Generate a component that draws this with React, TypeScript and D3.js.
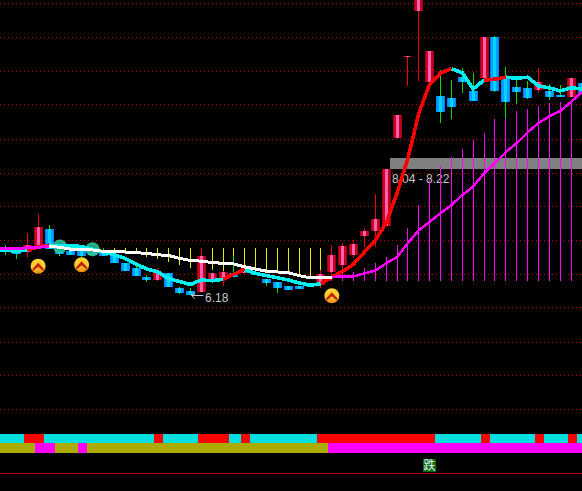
// K-line chart with two moving lines, signal bars and state strips
import React from "react";
import { scaleLinear, scaleLog, line } from "d3";

const svgWidth = 582;
const svgHeight = 491;

const opens = [6.79, 6.74, 6.73, 6.79, 7.07, 6.79, 6.74, 6.76, 6.76, 6.76, 6.69, 6.58, 6.5, 6.38, 6.34, 6.44, 6.23, 6.19, 6.18, 6.34, 6.37, 6.44, 6.43, 6.45, 6.35, 6.31, 6.26, 6.26, 6.3, 6.27, 6.45, 6.55, 6.69, 6.96, 7.04, 7.12, 8.58, 10.2, 11.24, 9.68, 9.39, 9.35, 9.77, 9.49, 9.75, 10.64, 9.73, 9.57, 9.55, 9.51, 9.49, 9.41, 9.37, 9.65];
const highs = [6.83, 6.76, 7.01, 7.3, 7.13, 6.85, 6.74, 6.76, 6.76, 6.79, 6.72, 6.58, 6.55, 6.41, 6.5, 6.44, 6.25, 6.23, 6.79, 6.43, 6.46, 6.67, 6.52, 6.45, 6.35, 6.31, 6.26, 6.26, 6.3, 6.48, 6.83, 6.86, 6.9, 7.08, 7.62, 8.03, 9.01, 10.22, 11.77, 10.33, 9.92, 9.71, 9.96, 9.86, 10.64, 10.67, 9.98, 9.77, 9.69, 9.96, 9.63, 9.61, 9.75, 9.65];
const lows = [6.69, 6.63, 6.66, 6.78, 6.77, 6.67, 6.69, 6.62, 6.69, 6.67, 6.58, 6.46, 6.39, 6.31, 6.32, 6.25, 6.16, 6.14, 6.18, 6.34, 6.26, 6.38, 6.43, 6.41, 6.26, 6.17, 6.2, 6.22, 6.26, 6.23, 6.32, 6.48, 6.65, 6.8, 6.8, 7.12, 8.58, 9.59, 9.69, 9.68, 8.87, 8.94, 9.45, 9.29, 9.75, 9.47, 8.94, 9.23, 9.33, 9.45, 9.31, 9.37, 9.37, 9.43];
const closes = [6.76, 6.7, 6.83, 7.1, 6.77, 6.7, 6.69, 6.67, 6.69, 6.68, 6.58, 6.46, 6.39, 6.34, 6.43, 6.25, 6.17, 6.14, 6.67, 6.43, 6.45, 6.38, 6.51, 6.41, 6.3, 6.23, 6.2, 6.22, 6.26, 6.42, 6.69, 6.81, 6.85, 7.04, 7.22, 8.03, 9.01, 10.22, 11.77, 10.33, 9.08, 9.17, 9.67, 9.29, 10.64, 9.49, 9.27, 9.47, 9.35, 9.67, 9.37, 9.37, 9.75, 9.43];

const fastLine = [6.76, 6.74, 6.76, 6.8, 6.83, 6.82, 6.82, 6.81, 6.77, 6.73, 6.69, 6.64, 6.56, 6.49, 6.45, 6.36, 6.32, 6.28, 6.34, 6.33, 6.35, 6.42, 6.48, 6.43, 6.4, 6.37, 6.34, 6.3, 6.27, 6.29, 6.38, 6.46, 6.56, 6.73, 6.9, 7.16, 7.63, 8.22, 9.05, 9.63, 9.86, 9.95, 9.86, 9.53, 9.71, 9.73, 9.77, 9.75, 9.77, 9.59, 9.55, 9.49, 9.55, 9.53];
const slowLine = [6.78, 6.78, 6.79, 6.8, 6.81, 6.8, 6.77, 6.77, 6.76, 6.74, 6.74, 6.73, 6.72, 6.71, 6.69, 6.68, 6.64, 6.61, 6.6, 6.58, 6.57, 6.56, 6.52, 6.49, 6.46, 6.45, 6.44, 6.4, 6.37, 6.37, 6.38, 6.39, 6.39, 6.43, 6.47, 6.57, 6.66, 6.86, 7.05, 7.18, 7.31, 7.44, 7.6, 7.74, 7.96, 8.14, 8.33, 8.49, 8.69, 8.86, 8.99, 9.09, 9.27, 9.47];

// segments of the fast line drawn red, the rest is cyan: [from, to]
const fastRedRuns = [[2, 4], [20, 22], [29, 41], [44, 46]];
// segments of the slow line drawn white, the rest is magenta
const slowWhiteRuns = [[4, 30]];

const yellowStart = 10;
const yellowTop = 6.79;
const yellowBottoms = [6.72, 6.72, 6.71, 6.66, 6.63, 6.59, 6.55, 6.5, 6.5, 6.48, 6.45, 6.45, 6.45, 6.44, 6.44, 6.44, 6.42, 6.39, 6.37, 6.37];
const magentaStart = 30;
const magentaBase = 6.33;
const magentaTops = [6.39, 6.44, 6.45, 6.5, 6.58, 6.66, 6.83, 7.08, 7.44, 7.85, 8.08, 8.24, 8.38, 8.55, 8.68, 8.93, 8.94, 9.09, 9.13, 9.18, 9.24, 9.27, 9.29];

const gridPrices = [11.45, 10.65, 9.91, 9.22, 8.57, 7.97, 7.42, 6.9, 6.42, 5.98, 5.56, 5.18, 4.82];

const zoneLow = 8.04;
const zoneHigh = 8.22;
const zoneLabel = "8.04 - 8.22";
const lowPrice = 6.18;
const lowLabel = "6.18";

const upIcons = [{ i: 3, price: 6.53 }, { i: 7, price: 6.55 }, { i: 30, price: 6.13 }];
const tealDiscs = [{ i: 5, price: 6.81 }, { i: 8, price: 6.77 }];

const hotIndexes = [3, 4, 7, 30, 31, 32, 33, 34, 35, 36, 37, 38, 39, 40, 41, 42, 43, 44, 45, 46, 47, 48, 49, 50, 51, 52, 53];
const fallLabel = "跌";

const xScale = scaleLinear().domain([0, 53]).range([5.5, 582]);
const yScale = scaleLog().domain([6.18, 11.47]).range([292, 2]);
const step = xScale(1) - xScale(0);

const isRed = (i: number) => closes[i] >= opens[i];
const inRuns = (runs: number[][], i: number) => runs.some(([a, b]) => i >= a && i < b);

// split a series into same coloured pieces
const pieces = (values: number[], runs: number[][], onColor: string, offColor: string) => {
    const out: { d: string; color: string }[] = [];
    let start = 0;
    for (let i = 1; i < values.length; i++) {
        const on = inRuns(runs, start);
        if (i === values.length - 1 || inRuns(runs, i) !== on) {
            const pts = values.map((v, k) => (k >= start && k <= i ? v : null));
            let path = line<number | null>()
                .defined((d) => d !== null)
                .x((_, k) => xScale(k))
                .y((d) => yScale(d as number))(pts) as string;
            // the series runs on to the left edge of the window
            if (start === 0) path = `M0,${yScale(values[0])}L` + path.slice(1);
            out.push({ d: path, color: on ? onColor : offColor });
            start = i;
        }
    }
    return out;
};

const Candle = ({ i }: { i: number }) => {
    const left = Math.round(xScale(i) - 4.5);
    const red = isRed(i);
    const top = yScale(Math.max(opens[i], closes[i]));
    const bottom = yScale(Math.min(opens[i], closes[i]));
    return (
        <g shapeRendering="crispEdges">
            <rect
                x={left + 4}
                y={yScale(highs[i])}
                width={1}
                height={yScale(lows[i]) - yScale(highs[i])}
                fill={red ? "#f00010" : "#00e000"}
            />
            <rect
                x={left}
                y={top}
                width={9}
                height={Math.max(bottom - top, 1)}
                fill={red ? "url(#redBody)" : "url(#blueBody)"}
            />
        </g>
    );
};

const UpIcon = ({ i, price }: { i: number; price: number }) => {
    const cx = xScale(i);
    const cy = yScale(price);
    return (
        <g transform={`translate(${cx},${cy})`}>
            <circle r={7.5} fill="url(#iconFill)" />
            <path d="M-5.5,2.5 L0,-3.5 L5.5,2.5 L5.5,5 L0,0.5 L-5.5,5 Z" fill="#c02010" />
        </g>
    );
};

const App = () => {
    const fastPieces = pieces(fastLine, fastRedRuns, "#ff0000", "#00f0f0");
    const slowPieces = pieces(slowLine, slowWhiteRuns, "#ffffff", "#ff00ff");
    const lowY = yScale(lowPrice);
    const stripY = 434;
    const stripH = 9;
    return (
        <svg
            width={svgWidth}
            height={svgHeight}
            style={{ position: "absolute", left: 0, top: 0, display: "block", background: "#000" }}
        >
            <defs>
                <linearGradient id="redBody" x1="0" x2="1" y1="0" y2="0">
                    <stop offset="0" stopColor="#a00018" />
                    <stop offset="0.12" stopColor="#a00018" />
                    <stop offset="0.12" stopColor="#d00020" />
                    <stop offset="0.33" stopColor="#d00020" />
                    <stop offset="0.33" stopColor="#ff60b0" />
                    <stop offset="0.66" stopColor="#ff60b0" />
                    <stop offset="0.66" stopColor="#c80020" />
                    <stop offset="0.88" stopColor="#c80020" />
                    <stop offset="0.88" stopColor="#a00018" />
                    <stop offset="1" stopColor="#a00018" />
                </linearGradient>
                <linearGradient id="blueBody" x1="0" x2="1" y1="0" y2="0">
                    <stop offset="0" stopColor="#0080ff" />
                    <stop offset="0.12" stopColor="#0080ff" />
                    <stop offset="0.12" stopColor="#00a0ff" />
                    <stop offset="0.33" stopColor="#00a0ff" />
                    <stop offset="0.33" stopColor="#00d4ff" />
                    <stop offset="0.66" stopColor="#00d4ff" />
                    <stop offset="0.66" stopColor="#00a0ff" />
                    <stop offset="0.88" stopColor="#00a0ff" />
                    <stop offset="0.88" stopColor="#0080ff" />
                    <stop offset="1" stopColor="#0080ff" />
                </linearGradient>
                <linearGradient id="iconFill" x1="0" x2="0" y1="0" y2="1">
                    <stop offset="0" stopColor="#ffd830" />
                    <stop offset="0.55" stopColor="#ffc830" />
                    <stop offset="1" stopColor="#f08810" />
                </linearGradient>
                <radialGradient id="discFill">
                    <stop offset="0" stopColor="#189878" />
                    <stop offset="1" stopColor="#30d0a0" />
                </radialGradient>
            </defs>

            {gridPrices.map((p) => (
                <line
                    key={p}
                    x1={0}
                    x2={svgWidth}
                    y1={Math.round(yScale(p)) + 0.5}
                    y2={Math.round(yScale(p)) + 0.5}
                    stroke="#b00000"
                    strokeDasharray="1 3"
                    shapeRendering="crispEdges"
                />
            ))}

            <rect
                x={xScale(35.33)}
                y={yScale(zoneHigh)}
                width={svgWidth - xScale(35.33)}
                height={yScale(zoneLow) - yScale(zoneHigh)}
                fill="#808080"
                shapeRendering="crispEdges"
            />
            <text
                x={392}
                y={yScale(zoneLow) + 14}
                fontFamily="Liberation Sans"
                fontSize={12}
                fill="#c8c8c8"
            >
                {zoneLabel}
            </text>

            {yellowBottoms.map((b, k) => (
                <rect
                    key={k}
                    x={Math.round(xScale(yellowStart + k) - 0.5)}
                    y={yScale(yellowTop)}
                    width={1}
                    height={yScale(b) - yScale(yellowTop)}
                    fill="#e8e800"
                    shapeRendering="crispEdges"
                />
            ))}
            {magentaTops.map((t, k) => (
                <rect
                    key={k}
                    x={Math.round(xScale(magentaStart + k) - 0.5)}
                    y={yScale(t)}
                    width={1}
                    height={yScale(magentaBase) - yScale(t)}
                    fill="#ff00ff"
                    shapeRendering="crispEdges"
                />
            ))}

            {opens.map((_, i) => (
                <Candle key={i} i={i} />
            ))}

            {tealDiscs.map((d) => (
                <circle
                    key={d.i}
                    cx={xScale(d.i)}
                    cy={yScale(d.price)}
                    r={7}
                    fill="url(#discFill)"
                    fillOpacity={0.9}
                />
            ))}

            {fastPieces.map((s, k) => (
                <path
                    key={k}
                    d={s.d}
                    fill="none"
                    stroke={s.color}
                    strokeWidth={3.6}
                    shapeRendering="crispEdges"
                />
            ))}
            {slowPieces.map((s, k) => (
                <path
                    key={k}
                    d={s.d}
                    fill="none"
                    stroke={s.color}
                    strokeWidth={s.color === "#ffffff" || k === 0 ? 3 : 2.5}
                    shapeRendering="crispEdges"
                />
            ))}

            {upIcons.map((d) => (
                <UpIcon key={d.i} i={d.i} price={d.price} />
            ))}

            <g stroke="#c8c8c8" fill="none">
                <path d={`M${xScale(17) + 1},${lowY + 3.5} H${xScale(17) + 13}`} />
                <path d={`M${xScale(17) + 4.5},${lowY + 0.5} L${xScale(17) + 1},${lowY + 3.5} L${xScale(17) + 4.5},${lowY + 6.5}`} />
            </g>
            <text x={205} y={lowY + 9.5} fontFamily="Liberation Sans" fontSize={12} fill="#c8c8c8">
                {lowLabel}
            </text>

            {opens.map((_, i) => (
                <rect
                    key={i}
                    x={i === 0 ? 0 : xScale(i) - 5.4}
                    y={stripY}
                    width={i === 0 ? 12 : step + 1}
                    height={stripH}
                    fill="#00e0e0"
                    shapeRendering="crispEdges"
                />
            ))}
            {opens.map((_, i) =>
                isRed(i) ? (
                    <rect
                        key={i}
                        x={xScale(i) - 3.5}
                        y={stripY}
                        width={i < 53 && isRed(i + 1) ? step + 1 : 9}
                        height={stripH}
                        fill="#ff0000"
                        shapeRendering="crispEdges"
                    />
                ) : null
            )}
            <rect x={0} y={stripY + stripH} width={svgWidth} height={10} fill="#aaaa00" shapeRendering="crispEdges" />
            {hotIndexes.map((i) => (
                <rect
                    key={i}
                    x={xScale(i) - 3.5}
                    y={stripY + stripH}
                    width={hotIndexes.includes(i + 1) ? step + 1 : 9}
                    height={10}
                    fill="#ff00ff"
                    shapeRendering="crispEdges"
                />
            ))}

            <rect x={423} y={459} width={13} height={13} fill="#006a10" shapeRendering="crispEdges" />
            <text x={423.5} y={470} fontFamily="Noto Sans CJK SC" fontSize={12} fill="#f0f0f0">
                {fallLabel}
            </text>
            <rect x={0} y={473} width={svgWidth} height={1} fill="#c00000" shapeRendering="crispEdges" />
        </svg>
    );
};

export default App;
